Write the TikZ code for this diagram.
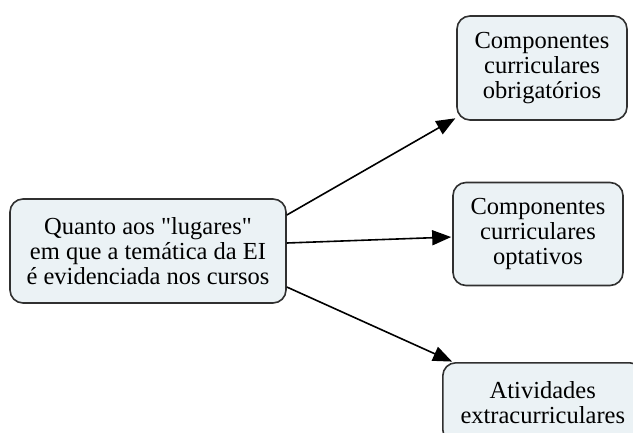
\documentclass[tikz,border=0pt]{standalone}
\usepackage{fontspec}
\setmainfont{Liberation Serif}
\usetikzlibrary{arrows.meta,calc}
\definecolor{boxfill}{HTML}{EBF2F5}
\definecolor{boxline}{HTML}{303030}
\tikzset{
  box/.style={draw=boxline, fill=boxfill, line width=1.6pt, rounded corners=13pt,
    align=center, inner sep=0pt, font=\fontsize{24.5}{25}\selectfont},
  link/.style={line width=1.6pt, draw=black, -{Triangle[length=19pt,width=15pt]}, shorten >=1pt}
}
\begin{document}
\begin{tikzpicture}[x=1pt,y=-1pt]
\useasboundingbox (0,0) rectangle (633,432);
\node[box, minimum width=276pt, minimum height=104pt] (main) at (148,251)
  {Quanto aos \textquotedbl lugares\textquotedbl\\em que a temática da EI\\é evidenciada nos cursos};
\node[box, minimum width=170pt, minimum height=104pt] (c1) at (542,68)
  {Componentes\\curriculares\\obrigatórios};
\node[box, minimum width=170pt, minimum height=103pt] (c2) at (538,234)
  {Componentes\\curriculares\\optativos};
\node[box, minimum width=200pt, minimum height=80pt, anchor=north west] (c3) at (442,362)
  {Atividades\\extracurriculares};
\coordinate (s1) at ($(main.east)+(0,-36)$);
\coordinate (s2) at ($(main.east)+(0,-8)$);
\coordinate (s3) at ($(main.east)+(0,36)$);
\coordinate (t1) at ($(c1.south west)+(0,-3)$);
\coordinate (t3) at ($(c3.north west)+(11,0)$);
\draw[link] (s1) -- (t1);
\draw[link] (s2) -- (c2.west |- 0,237);
\draw[link] (s3) -- (t3);
\end{tikzpicture}
\end{document}
